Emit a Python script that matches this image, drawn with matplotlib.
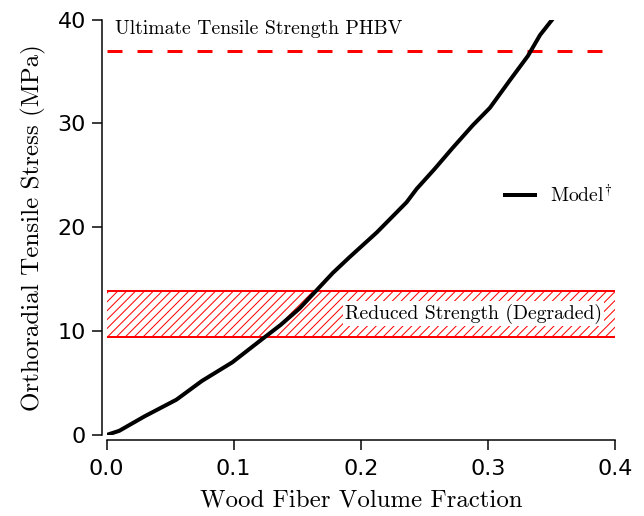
import matplotlib
matplotlib.use("Agg")
import matplotlib.pyplot as plt

# model curve: orthoradial stress vs wood fiber volume fraction
fiber_frac = [0.0, 0.01, 0.03, 0.055, 0.075, 0.099, 0.12, 0.137, 0.152, 0.165,
              0.178, 0.191, 0.2126, 0.236, 0.244, 0.258, 0.272, 0.288, 0.3016,
              0.317, 0.3315, 0.341, 0.35]
stress = [0.0, 0.4, 1.8, 3.4, 5.2, 7.0, 9.0, 10.6, 12.2, 13.9,
          15.6, 17.1, 19.5, 22.4, 23.7, 25.6, 27.6, 29.8, 31.5,
          34.1, 36.5, 38.5, 39.9]

uts_phbv = 37.0                 # ultimate tensile strength of PHBV
degraded_band = (9.45, 13.9)    # reduced strength range

plt.rcParams['font.family'] = 'serif'
plt.rcParams['font.serif'] = ['cmr10']
plt.rcParams['mathtext.fontset'] = 'cm'
plt.rcParams['axes.unicode_minus'] = False
plt.rcParams['hatch.linewidth'] = 0.9

dpi = 80
fig = plt.figure(figsize=(644 / dpi, 516 / dpi), dpi=dpi)
ax = fig.add_axes([0.1654, 0.157, 0.955 - 0.1654, 0.9622 - 0.157])

# degraded strength band
ax.fill_between([0, 0.4], degraded_band[0], degraded_band[1], facecolor='none',
                edgecolor='red', hatch='///', linewidth=0, zorder=1)
for yb in degraded_band:
    ax.axhline(yb, color='red', lw=1.8, zorder=1)
ax.text(0.39, sum(degraded_band) / 2, 'Reduced Strength (Degraded)', ha='right',
        va='center', fontsize=17.7,
        bbox=dict(facecolor='white', edgecolor='none', pad=2), zorder=2)

# PHBV ultimate tensile strength
ax.axhline(uts_phbv, color='red', lw=2.7, dashes=(5, 5), zorder=2)
ax.text(0.007, 39.1, 'Ultimate Tensile Strength PHBV', ha='left', va='center',
        fontsize=17.7)

ax.plot(fiber_frac, stress, color='black', lw=3.6, label=r'Model$^{\!\dagger}$', zorder=3)

ax.set_xlim(0, 0.4)
ax.set_ylim(0, 40)
ax.set_xticks([0.0, 0.1, 0.2, 0.3, 0.4])
ax.set_yticks([0, 10, 20, 30, 40])
ax.set_xticklabels(['0.0', '0.1', '0.2', '0.3', '0.4'])

for side in ['top', 'right']:
    ax.spines[side].set_visible(False)
for side in ['left', 'bottom']:
    ax.spines[side].set_position(('outward', 4.5))
    ax.spines[side].set_linewidth(1.35)
ax.tick_params(direction='out', length=9, width=1.35, labelsize=20,
               labelfontfamily='DejaVu Sans')
ax.tick_params(axis='x', pad=8)
ax.tick_params(axis='y', pad=5)

ax.set_xlabel('Wood Fiber Volume Fraction', fontsize=22.3, labelpad=9)
ax.set_ylabel('Orthoradial Tensile Stress (MPa)', fontsize=22.5, labelpad=10)

ax.legend(loc='center right', bbox_to_anchor=(1.03, 0.578), frameon=False,
          fontsize=17.7, handlelength=1.5, handletextpad=0.8)

fig.savefig('out.png', dpi=dpi)
